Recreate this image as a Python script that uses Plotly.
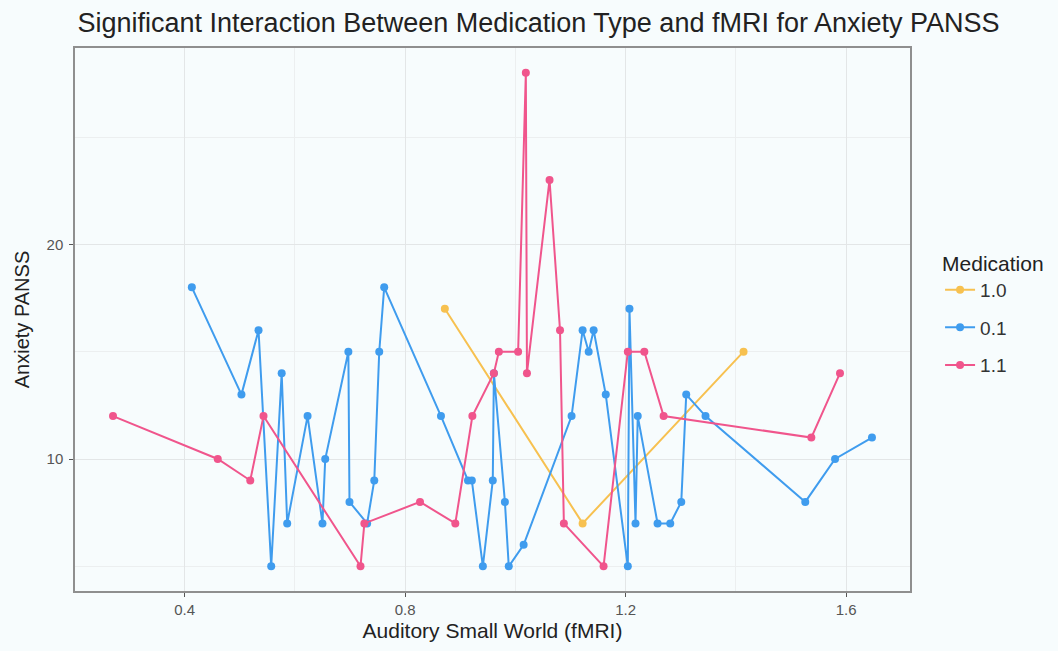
import plotly.graph_objects as go

# ---- data ----
med_labels = ["1.0", "0.1", "1.1"]

yellow_x = [0.872, 1.122, 1.414]
yellow_y = [17, 7, 15]

blue_x = [0.413, 0.503, 0.534, 0.557, 0.576, 0.586, 0.623, 0.650, 0.655, 0.697,
          0.699, 0.731, 0.744, 0.753, 0.762, 0.865, 0.914, 0.921, 0.941, 0.959,
          0.961, 0.981, 0.988, 1.015, 1.102, 1.122, 1.133, 1.142, 1.164, 1.204,
          1.207, 1.218, 1.222, 1.258, 1.281, 1.301, 1.310, 1.345, 1.526, 1.580,
          1.647]
blue_y = [18, 13, 16, 5, 14, 7, 12, 7, 10, 15,
          8, 7, 9, 15, 18, 12, 9, 9, 5, 9,
          14, 8, 5, 6, 12, 16, 15, 16, 13, 5,
          17, 7, 12, 7, 7, 8, 13, 12, 8, 10,
          11]

pink_x = [0.270, 0.460, 0.519, 0.543, 0.719, 0.726, 0.827, 0.891, 0.922, 0.961,
          0.970, 1.005, 1.019, 1.021, 1.062, 1.081, 1.088, 1.160, 1.204, 1.234,
          1.269, 1.537, 1.589]
pink_y = [12, 10, 9, 12, 5, 7, 8, 7, 12, 14,
          15, 15, 28, 14, 23, 16, 7, 5, 15, 15,
          12, 11, 14]

x_ticks = [0.4, 0.8, 1.2, 1.6]
y_ticks = [10, 20]

colors = ["#F7C150", "#3F9CEE", "#F0558C"]
series = [(yellow_x, yellow_y), (blue_x, blue_y), (pink_x, pink_y)]

FONT = "Liberation Sans, Arial, Helvetica, sans-serif"
BG = "#F7FCFD"

fig = go.Figure()
for i, (lab, (xs, ys)) in enumerate(zip(med_labels, series)):
    fig.add_trace(go.Scatter(
        x=xs, y=ys, mode="lines+markers", name=lab,
        legendgroup=lab,
        line=dict(color=colors[i], width=2),
        marker=dict(color=colors[i], size=8),
    ))

axis_common = dict(
    showgrid=True, gridcolor="#E3E6E7", gridwidth=1.4,
    zeroline=False,
    showline=True, linecolor="#8F8F8F", linewidth=1.5, mirror=True,
    ticks="outside", ticklen=4, tickcolor="#555555", tickwidth=1.2,
    tickfont=dict(family=FONT, size=15, color="#555555"),
)

fig.update_xaxes(
    range=[0.201, 1.716], tickvals=x_ticks, ticktext=[f"{v:.1f}" for v in x_ticks],
    minor=dict(tickvals=[0.2, 0.6, 1.0, 1.4], showgrid=True, gridcolor="#ECEFF0", gridwidth=1),
    title=dict(text="Auditory Small World (fMRI)", font=dict(family=FONT, size=21, color="#222222"), standoff=7),
    **axis_common,
)
fig.update_yaxes(
    range=[3.85, 29.15], tickvals=y_ticks, ticktext=[str(v) for v in y_ticks],
    minor=dict(tickvals=[5, 15, 25], showgrid=True, gridcolor="#ECEFF0", gridwidth=1),
    title=dict(text="Anxiety PANSS", font=dict(family=FONT, size=20, color="#222222"), standoff=12),
    ticklabelstandoff=3,
    **axis_common,
)

fig.update_layout(
    width=1058, height=651,
    margin=dict(l=75, r=146, t=48, b=56),
    paper_bgcolor=BG, plot_bgcolor=BG,
    title=dict(text="Significant Interaction Between Medication Type and fMRI for Anxiety PANSS",
               font=dict(family=FONT, size=27, color="#222222"),
               x=0.509, xanchor="center", xref="container", y=0.965, yanchor="middle"),
    legend=dict(
        title=dict(text="Medication", font=dict(family=FONT, size=21, color="#222222")),
        font=dict(family=FONT, size=19, color="#333333"),
        x=1.036, xanchor="left", y=0.64, yanchor="top",
        bgcolor="rgba(0,0,0,0)", tracegroupgap=10,
    ),
    showlegend=True,
)

fig.write_html("out.html")
